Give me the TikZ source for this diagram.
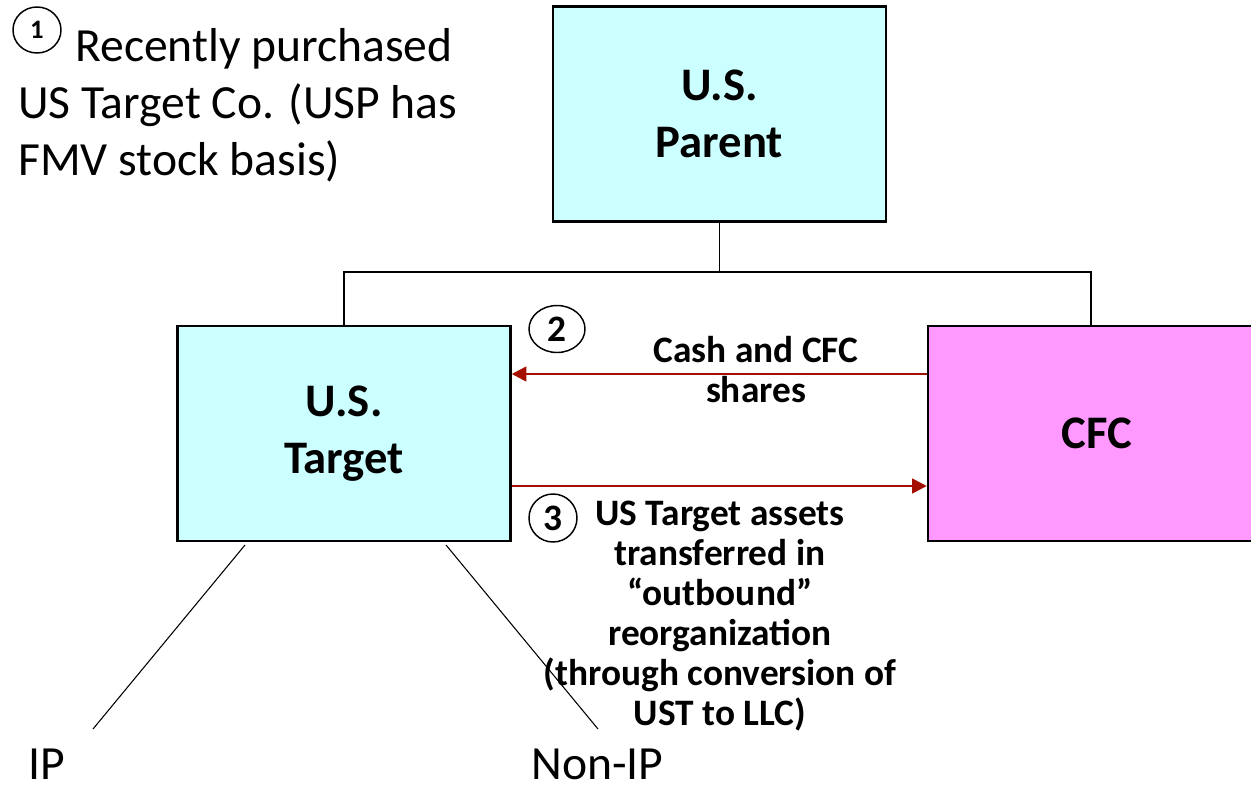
\documentclass[tikz,border=0pt]{standalone}
\usepackage{fontspec}
\setmainfont{Carlito}
\usetikzlibrary{arrows.meta,shapes.geometric}
\definecolor{boxcyan}{HTML}{CCFFFF}
\definecolor{boxpink}{HTML}{FF99FF}
\definecolor{arrred}{HTML}{A50F00}
\tikzset{
  entity/.style={draw=black, line width=1.8pt, minimum width=333*0.75pt, minimum height=215*0.75pt, inner sep=0pt, align=center, font=\bfseries\fontsize{35}{42.75}\selectfont},
  tie/.style={draw=black, line width=1.4pt},
  flow/.style={draw=arrred, line width=1.8pt, -{Triangle[length=11pt,width=11pt]}},
  branch/.style={draw=black, line width=0.8pt},
  steplabel/.style={font=\bfseries\fontsize{28}{30}\selectfont, align=center, inner sep=0pt},
  numcirc/.style={draw=black, line width=1.1pt, ellipse, inner sep=0pt},
  plaintext/.style={font=\fontsize{35.7}{42.75}\selectfont, inner sep=0pt},
}
\begin{document}
\begin{tikzpicture}[x=0.75pt,y=-0.75pt]
\useasboundingbox (0,0) rectangle (1251,785);
% boxes
\node[entity, fill=boxcyan] (usp) at (719.5,114) {U.S.\\Parent};
\node[entity, fill=boxcyan] (ust) at (344,433.5) {U.S.\\Target};
\node[entity, fill=boxpink, minimum width=338*0.75pt] (cfc) at (1097,433.5) {CFC};
% ownership lines
\coordinate (j) at (719.5,272);
\coordinate (jl) at (344,272);
\coordinate (jr) at (1091,272);
\draw[tie] (usp.south) -- (j);
\draw[tie] (ust.north) -- (jl) -- (jr) -- (jr |- cfc.north);
% flows
\draw[flow] (cfc.west |- 0,374) -- (ust.east |- 0,374);
\draw[flow] (ust.east |- 0,486) -- (cfc.west |- 0,486);
% step labels
\node[numcirc, minimum width=56*0.75pt, minimum height=47*0.75pt, font=\bfseries\fontsize{28}{30}\selectfont] (c2) at (557,329) {2};
\node[steplabel, anchor=base] (l2) at (756,402) {Cash and CFC\\shares};
\node[numcirc, minimum width=48*0.75pt, minimum height=48*0.75pt, font=\bfseries\fontsize{28}{30}\selectfont] (c3) at (553,518) {3};
\node[steplabel, anchor=base] (l3) at (720,725) {US Target assets\\transferred in\\“outbound”\\reorganization\\(through conversion of\\UST to LLC)};
% top-left note
\node[numcirc, minimum width=48*0.75pt, minimum height=46*0.75pt, font=\bfseries\fontsize{20}{22}\selectfont] (c1) at (37,30) {1};
\node[plaintext, anchor=base west] (t1) at (75,61) {Recently purchased};
\node[plaintext, anchor=base west] (t2) at (18,118) {US Target Co. (USP has};
\node[plaintext, anchor=base west] (t3) at (18,175) {FMV stock basis)};
% branches
\coordinate (bl) at (245,545);
\coordinate (br) at (446,545);
\node[plaintext, anchor=base west] (ip) at (28,779) {IP};
\node[plaintext, anchor=base west] (nonip) at (531,779) {Non-IP};
\coordinate (blend) at (93,729);
\coordinate (brend) at (598,729);
\draw[branch] (bl) -- (blend);
\draw[branch] (br) -- (brend);
\end{tikzpicture}
\end{document}
